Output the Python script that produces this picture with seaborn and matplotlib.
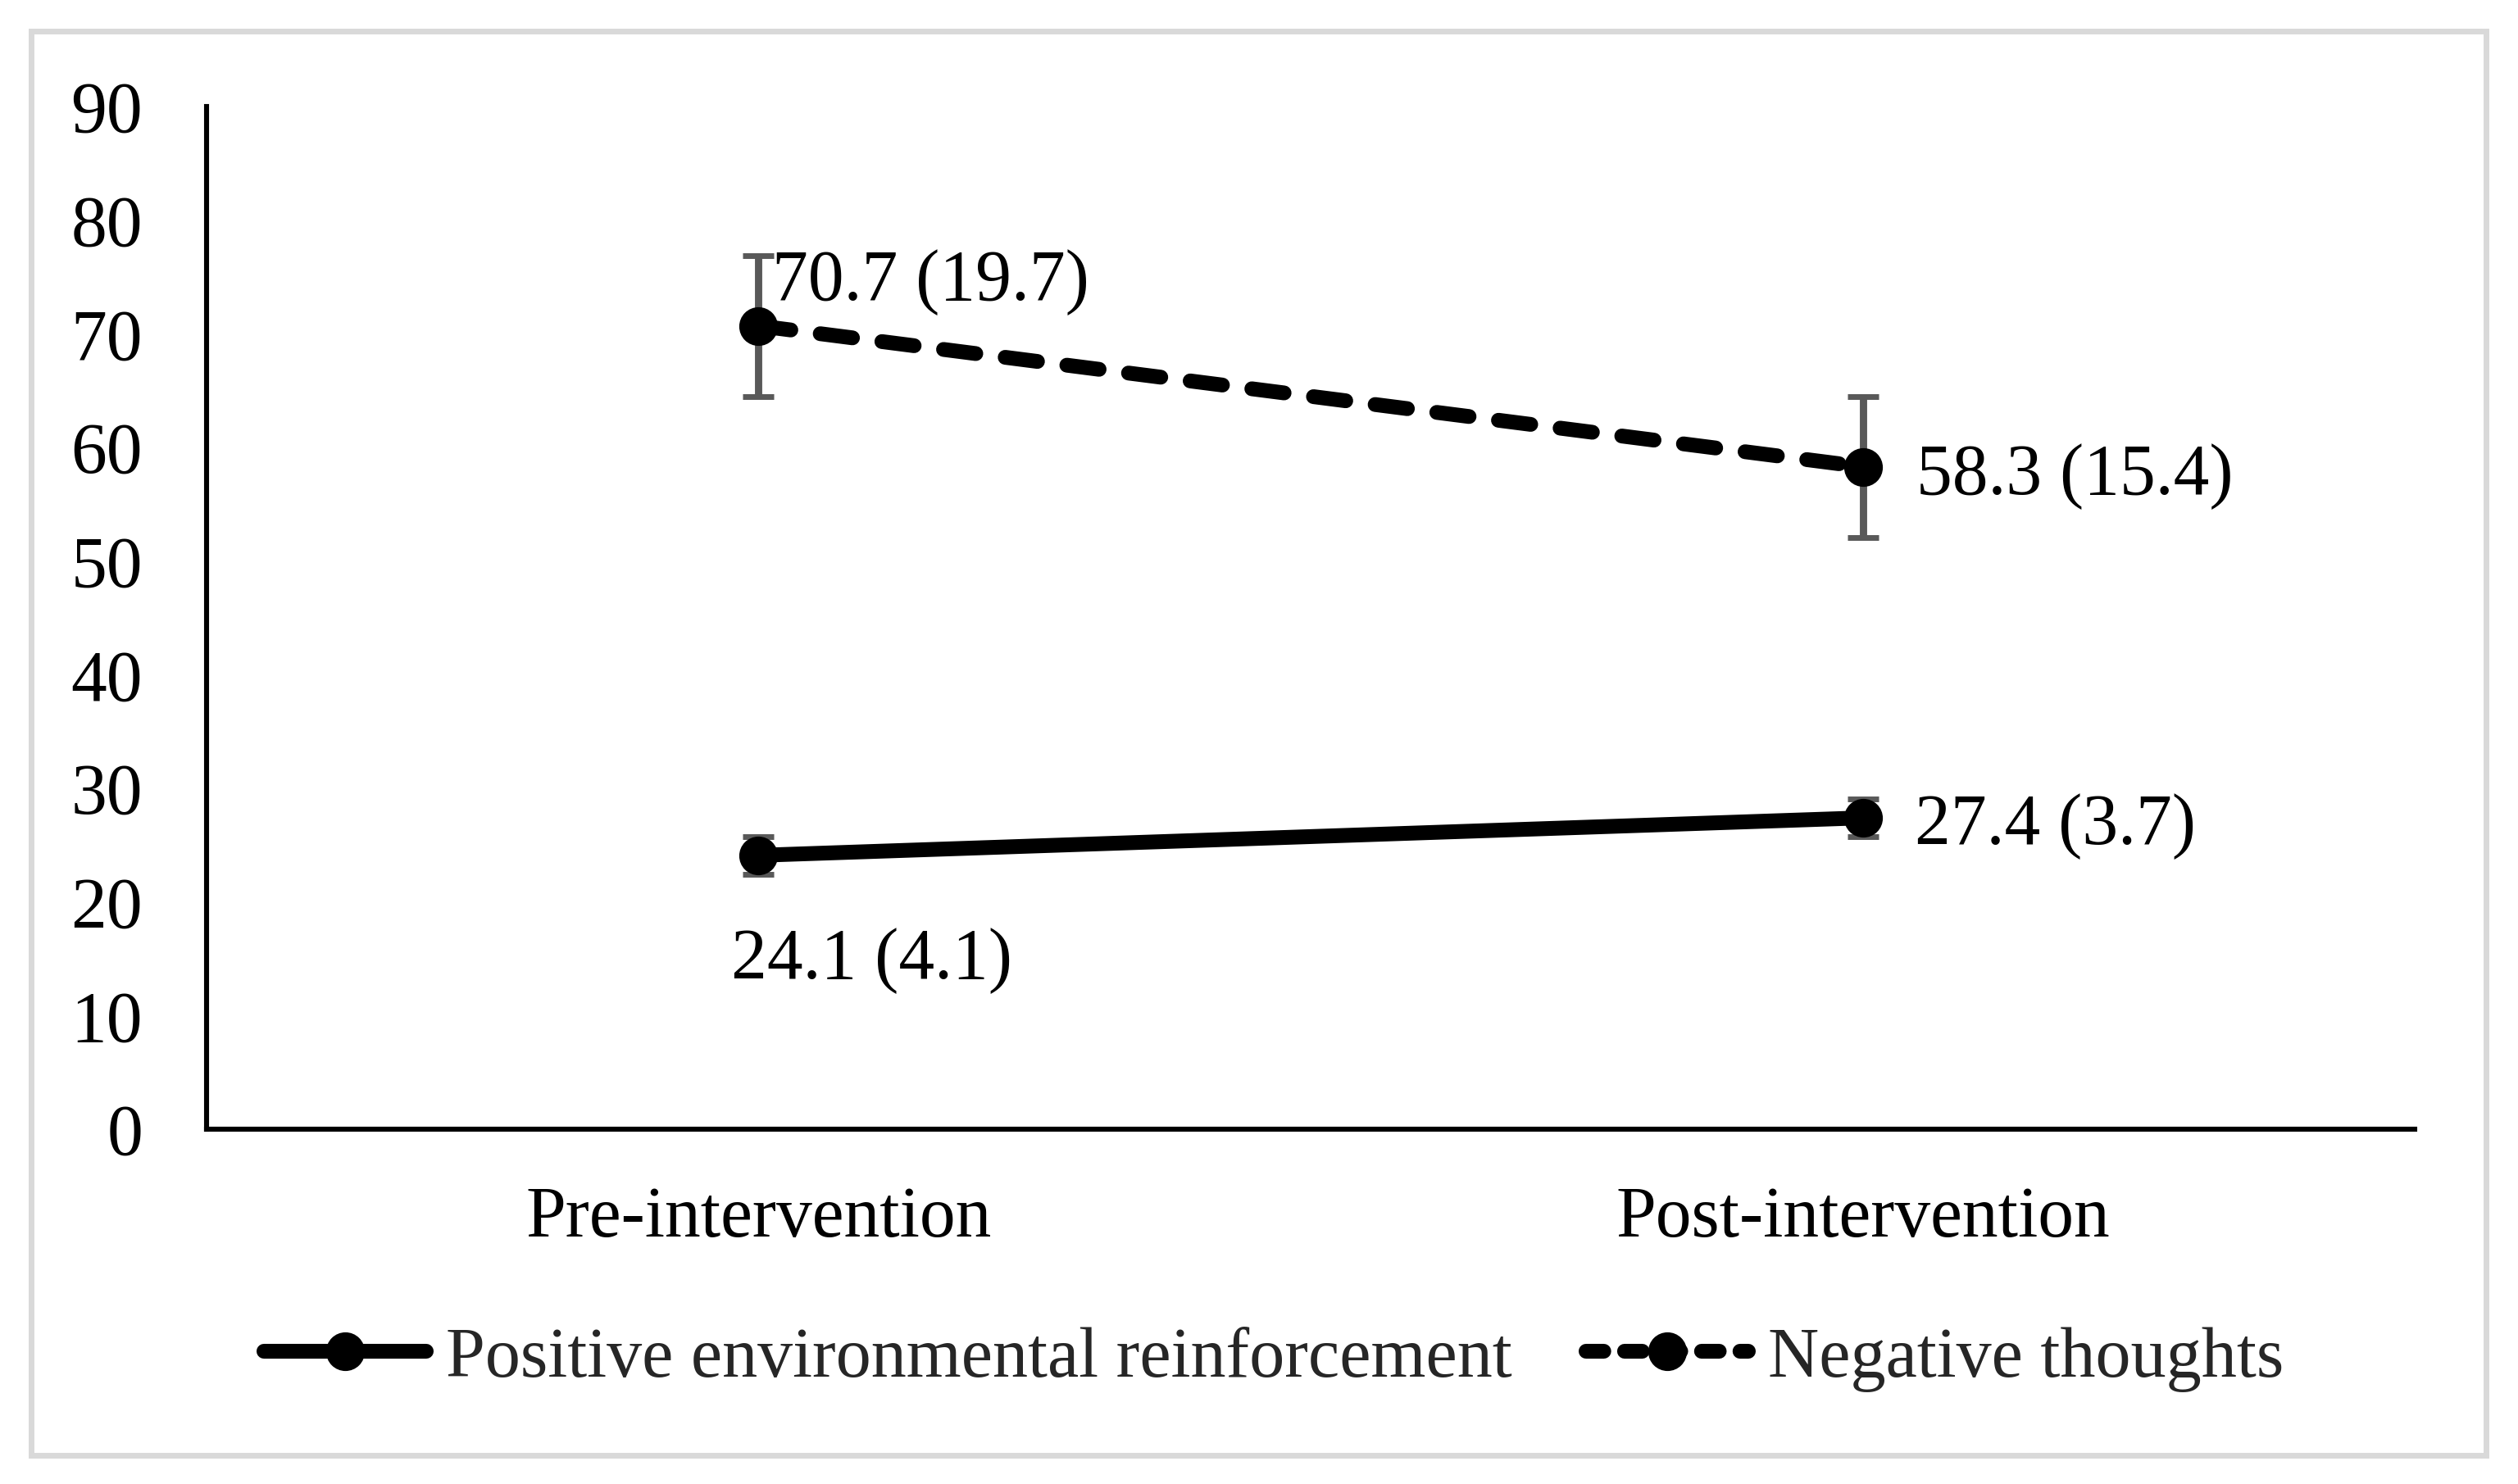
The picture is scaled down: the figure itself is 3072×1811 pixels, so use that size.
import matplotlib
matplotlib.use("Agg")
import matplotlib.pyplot as plt
import seaborn as sns
from matplotlib.lines import Line2D
from matplotlib.patches import Rectangle

# Data
categories = ["Pre-intervention", "Post-intervention"]
positive_mean = [24.1, 27.4]
positive_sd = [4.1, 3.7]
positive_err = [1.65, 1.65]
negative_mean = [70.7, 58.3]
negative_sd = [19.7, 15.4]
negative_err = [6.2, 6.2]
yticks = [0, 10, 20, 30, 40, 50, 60, 70, 80, 90]

# Style
sns.set_theme(style="white")
plt.rcParams["font.family"] = ["Liberation Serif", "DejaVu Serif"]
FS = 31.5

fig = plt.figure(figsize=(15.36, 9.055), dpi=200)
ax = fig.add_axes([0.0820, 0.2391, 0.8770, 0.6891])

# Error bars behind the lines
ax.errorbar(categories, positive_mean, yerr=positive_err, fmt="none",
            ecolor="#595959", elinewidth=3.2, capsize=6.8, capthick=2.5, zorder=1)
ax.errorbar(categories, negative_mean, yerr=negative_err, fmt="none",
            ecolor="#595959", elinewidth=3.2, capsize=6.8, capthick=2.5, zorder=1)

# Lines
sns.lineplot(x=categories, y=positive_mean, ax=ax, color="black", lw=6.5,
             marker="o", markersize=17, markeredgewidth=0, zorder=3,
             solid_capstyle="round")
sns.lineplot(x=categories, y=negative_mean, ax=ax, color="black", lw=6.5,
             marker="o", markersize=17, markeredgewidth=0, zorder=3)
neg_line = ax.lines[-1]
neg_line.set_dashes((2.2, 2.0))
neg_line.set_dash_capstyle("round")

# Value labels
label_offsets = {
    "pos": [(-12, -54, "left"), (23, -11.5, "left")],
    "neg": [(6, 11.5, "left"), (23.4, -12, "left")],
}
for i, cat in enumerate(categories):
    dx, dy, ha = label_offsets["pos"][i]
    ax.annotate(f"{positive_mean[i]} ({positive_sd[i]})", xy=(i, positive_mean[i]),
                xytext=(dx, dy), textcoords="offset points", ha=ha, va="baseline",
                fontsize=FS, color="black", zorder=5)
    dx, dy, ha = label_offsets["neg"][i]
    ax.annotate(f"{negative_mean[i]} ({negative_sd[i]})", xy=(i, negative_mean[i]),
                xytext=(dx, dy), textcoords="offset points", ha=ha, va="baseline",
                fontsize=FS, color="black", zorder=5)

# Axes
ax.set_xlim(-0.5, 1.5)
ax.set_ylim(0, 90)
ax.set_yticks(yticks)
ax.set_yticklabels([str(t) for t in yticks])
ax.tick_params(axis="both", length=0, labelsize=FS, colors="black")
ax.tick_params(axis="y", pad=28)
ax.tick_params(axis="x", pad=25)
ax.set_xlabel("")
ax.set_ylabel("")
for side in ["top", "right"]:
    ax.spines[side].set_visible(False)
for side in ["left", "bottom"]:
    ax.spines[side].set_color("black")
    ax.spines[side].set_linewidth(2.2)
ax.grid(False)

# Legend
handles = [
    Line2D([0], [0], color="black", lw=6.5, marker="o", markersize=17,
           markeredgewidth=0, solid_capstyle="round"),
    Line2D([0], [0], color="black", lw=6.5, marker="o", markersize=17,
           markeredgewidth=0, dashes=(1.2, 1.4), dash_capstyle="round"),
]
fig.legend(handles, ["Positive environmental reinforcement", "Negative thoughts"],
           loc="center", bbox_to_anchor=(0.506, 0.084), ncol=2, frameon=False,
           fontsize=31, handlelength=2.3, handletextpad=0.28, columnspacing=1.05)

# Outer border
fig.add_artist(Rectangle((37.5 / 3072, 1 - 1776 / 1811), (3033 - 37.5) / 3072,
                         (1776 - 37.5) / 1811, transform=fig.transFigure,
                         fill=False, ec="#d9d9d9", lw=2.5))

fig.savefig("out.png", dpi=200)
